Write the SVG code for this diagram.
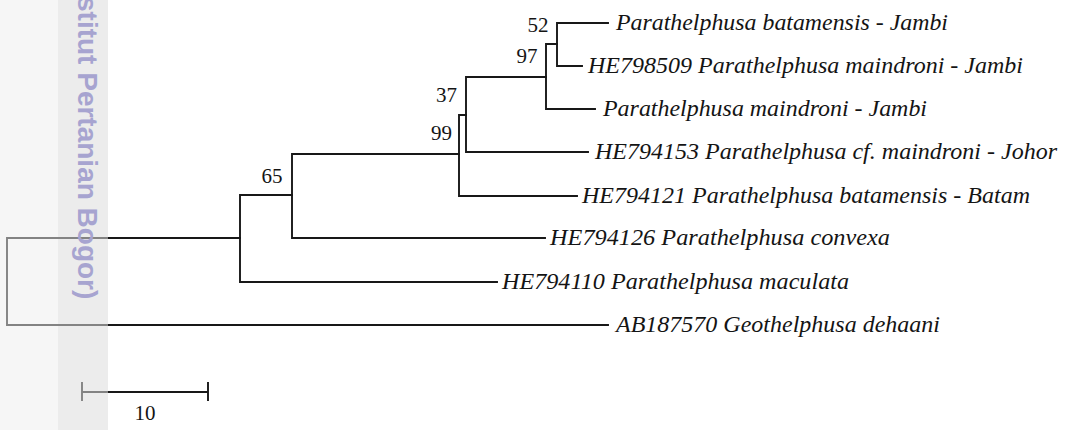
<svg xmlns="http://www.w3.org/2000/svg" width="1066" height="430" viewBox="0 0 1066 430">
  <style>
    .br { fill: none; stroke: #181818; stroke-width: 1.9; stroke-linecap: square; }
    .leaf { font-family: "Liberation Serif", "Times New Roman", serif; font-style: italic; font-size: 22.5px; fill: #141414; }
    .bs { font-family: "Liberation Serif", "Times New Roman", serif; font-size: 21px; fill: #141414; text-anchor: end; }
    .scale { font-family: "Liberation Serif", "Times New Roman", serif; font-size: 21px; fill: #141414; text-anchor: middle; }
    .wm { font-family: "Liberation Sans", Arial, sans-serif; font-weight: bold; font-size: 28px; fill: #a7a4d0; }
  </style>

  <rect x="0" y="0" width="1066" height="430" fill="#ffffff"/>

  <!-- tree branches -->
  <g id="connectors">
    <!-- root -->
    <path class="br" d="M240 238 H7 V325 H608"/>
    <!-- clade 65 parent -->
    <path class="br" d="M292 195 H240 V282 H497"/>
    <!-- node 65 -->
    <path class="br" d="M459 154 H292 V238 H545"/>
    <!-- node 99 -->
    <path class="br" d="M466 115 H459 V196 H577"/>
    <!-- node 37 -->
    <path class="br" d="M546 77 H466 V152 H588"/>
    <!-- node 97 -->
    <path class="br" d="M557 44 H546 V109 H595"/>
    <!-- node 52 -->
    <path class="br" d="M608 23 H557 V66 H582"/>
  </g>

  <!-- terminal taxa -->
  <g id="taxon-batamensis-jambi"><text class="leaf" x="616" y="29.5" textLength="332" lengthAdjust="spacingAndGlyphs">Parathelphusa batamensis - Jambi</text></g>
  <g id="taxon-HE798509"><text class="leaf" x="588" y="72.5" textLength="435" lengthAdjust="spacingAndGlyphs">HE798509 Parathelphusa maindroni - Jambi</text></g>
  <g id="taxon-maindroni-jambi"><text class="leaf" x="603" y="115.5" textLength="324" lengthAdjust="spacingAndGlyphs">Parathelphusa maindroni - Jambi</text></g>
  <g id="taxon-HE794153"><text class="leaf" x="595" y="158.5" textLength="462" lengthAdjust="spacingAndGlyphs">HE794153 Parathelphusa cf. maindroni - Johor</text></g>
  <g id="taxon-HE794121"><text class="leaf" x="582" y="202.5" textLength="448" lengthAdjust="spacingAndGlyphs">HE794121 Parathelphusa batamensis - Batam</text></g>
  <g id="taxon-HE794126"><text class="leaf" x="550" y="244.5" textLength="340" lengthAdjust="spacingAndGlyphs">HE794126 Parathelphusa convexa</text></g>
  <g id="taxon-HE794110"><text class="leaf" x="502" y="288.5" textLength="347" lengthAdjust="spacingAndGlyphs">HE794110 Parathelphusa maculata</text></g>
  <g id="taxon-AB187570"><text class="leaf" x="616" y="331.5" textLength="324" lengthAdjust="spacingAndGlyphs">AB187570 Geothelphusa dehaani</text></g>

  <!-- bootstrap support values -->
  <g id="support-52"><text class="bs" x="548.5" y="31.5">52</text></g>
  <g id="support-97"><text class="bs" x="537.5" y="63">97</text></g>
  <g id="support-37"><text class="bs" x="457" y="102">37</text></g>
  <g id="support-99"><text class="bs" x="452" y="140">99</text></g>
  <g id="support-65"><text class="bs" x="282.5" y="183">65</text></g>

  <!-- scale bar -->
  <g id="scale-bar">
    <path class="br" d="M82 392 H208 M82 383 V400 M208 383 V400"/>
    <text class="scale" x="145" y="420">10</text>
  </g>

  <!-- margin shading -->
  <rect x="0" y="0" width="58" height="430" fill="#eeeeee" fill-opacity="0.5"/>
  <rect x="58" y="0" width="50" height="430" fill="#dddddd" fill-opacity="0.55"/>

  <!-- vertical margin stamp -->
  <text class="wm" transform="translate(78,-4) rotate(90)">stitut Pertanian Bogor)</text>
</svg>
